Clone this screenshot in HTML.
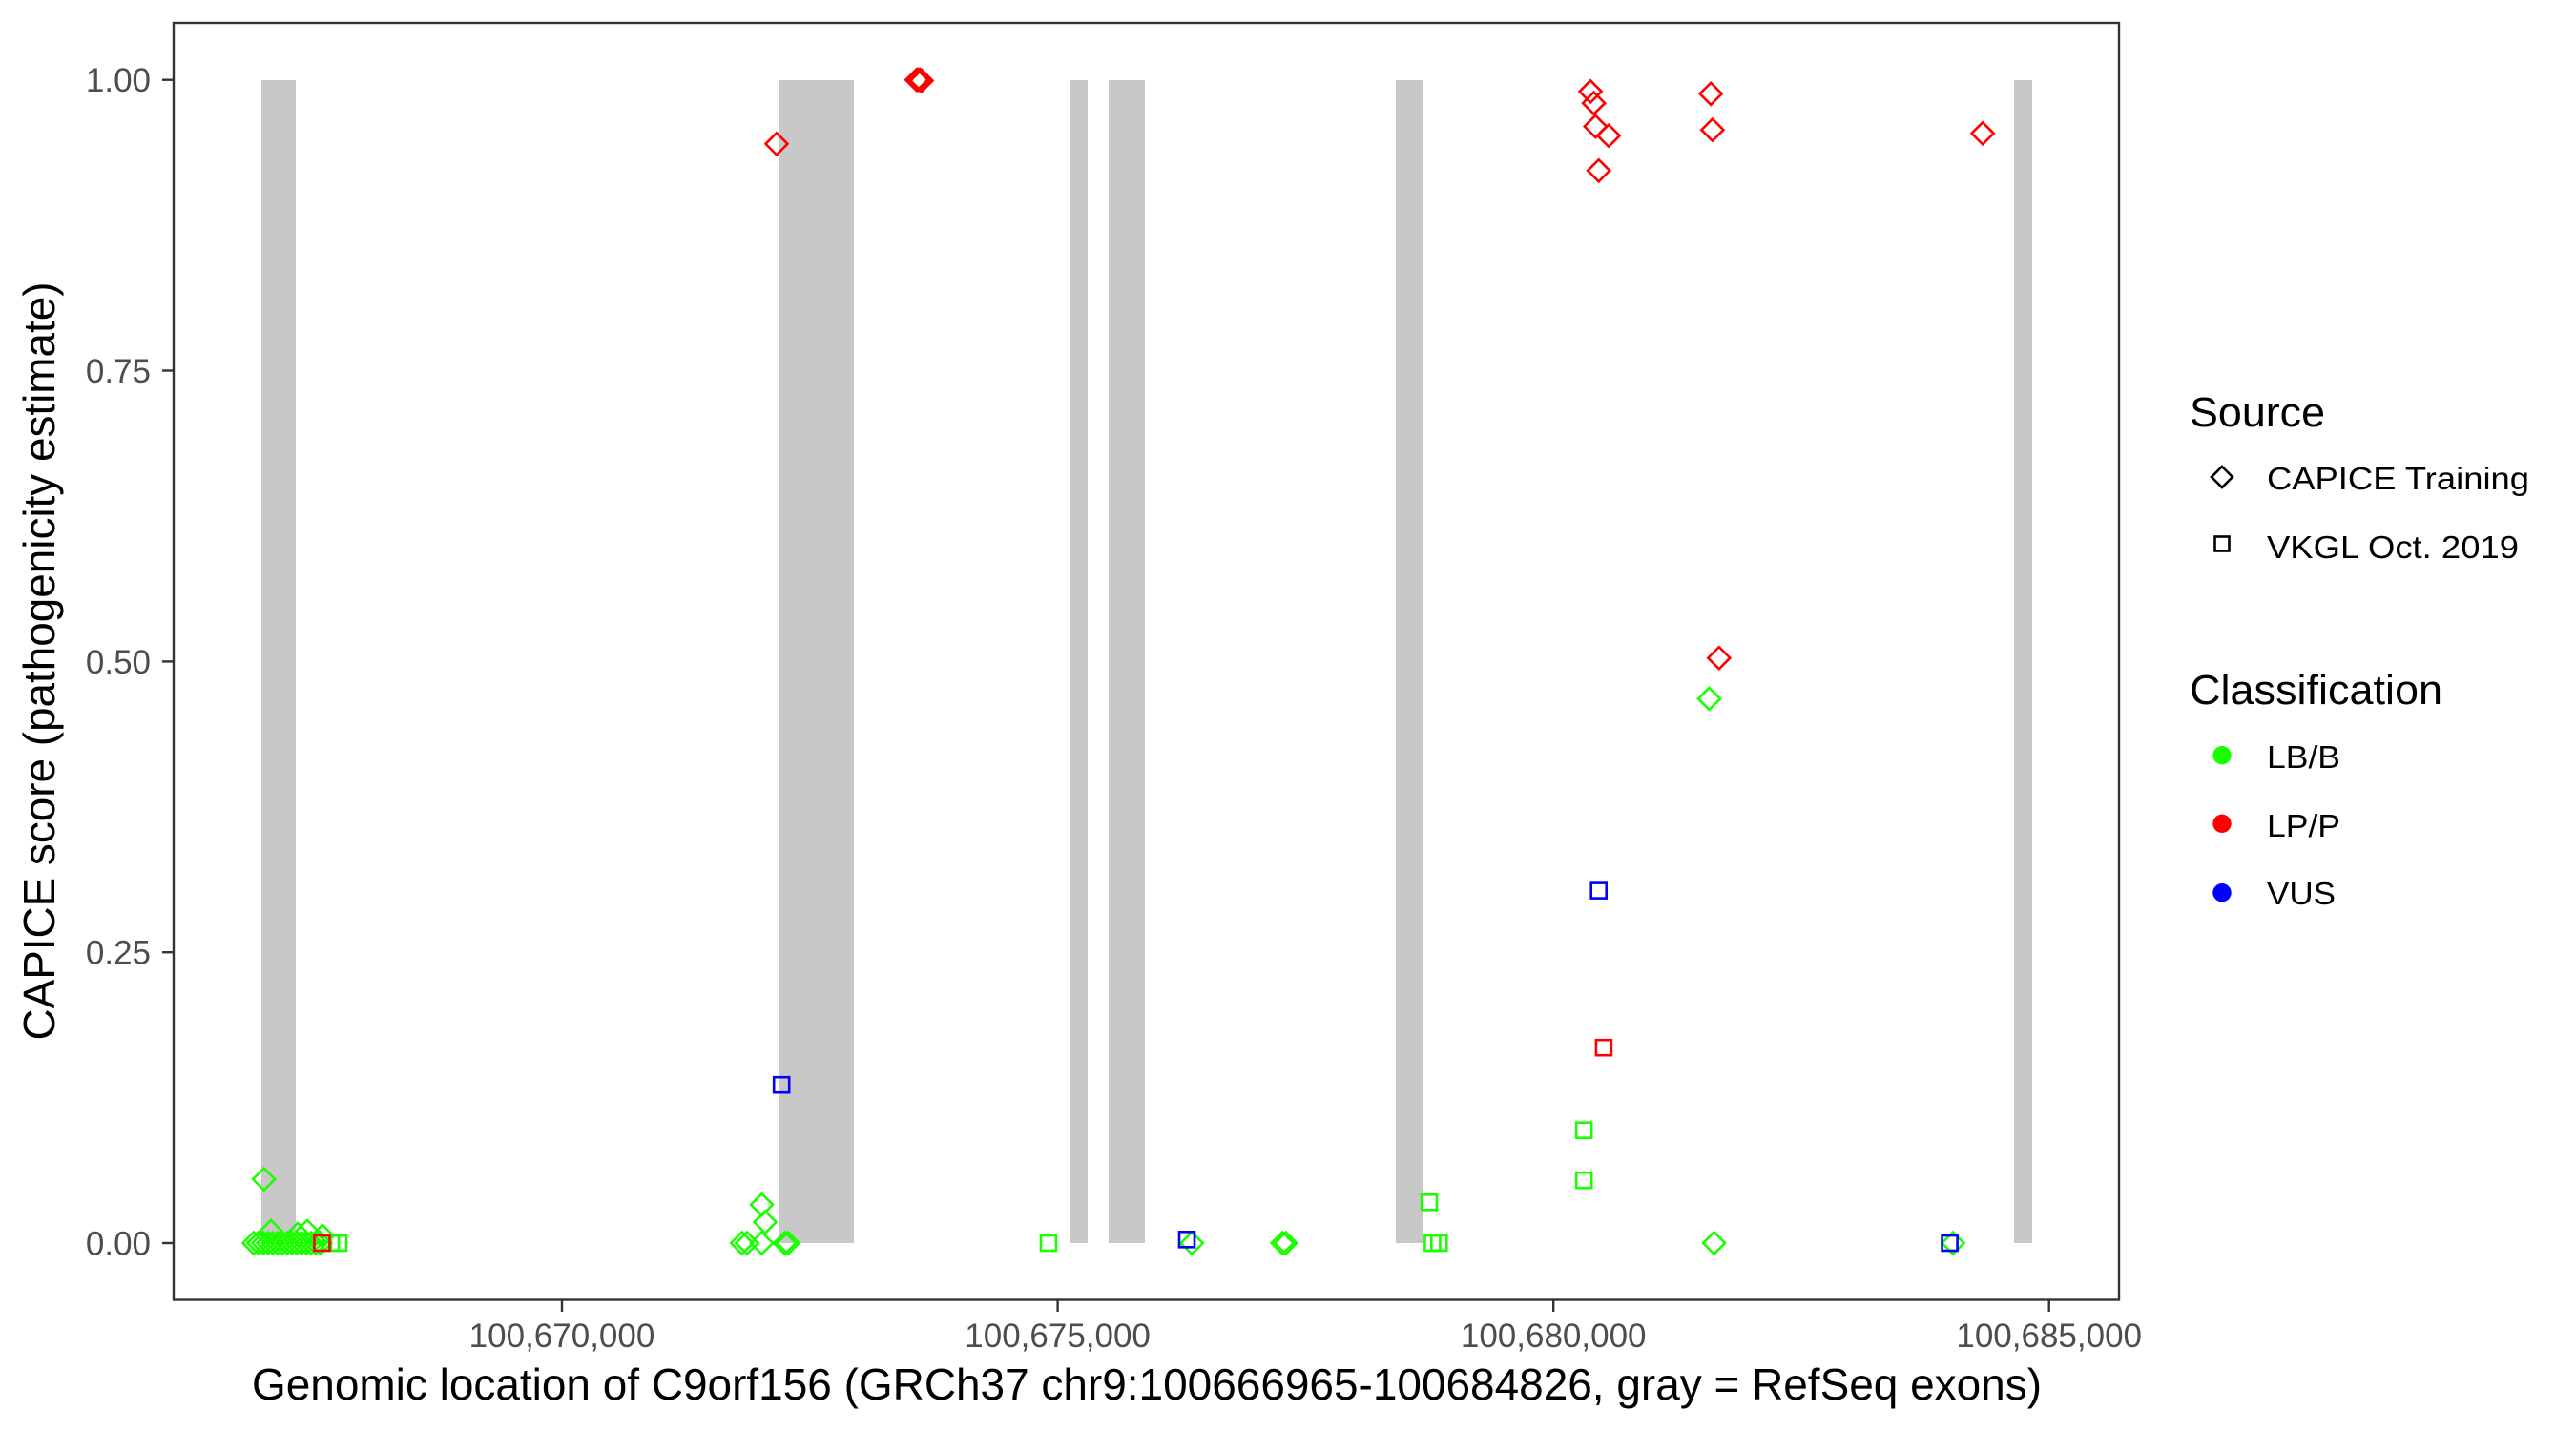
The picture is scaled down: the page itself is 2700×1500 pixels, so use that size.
<!DOCTYPE html>
<html><head><meta charset="utf-8"><style>
html,body{margin:0;padding:0;background:#fff;}
svg{display:block;font-family:"Liberation Sans",Arial,sans-serif;}
</style></head><body>
<svg width="2700" height="1500" viewBox="0 0 2700 1500" xmlns="http://www.w3.org/2000/svg">
<rect width="2700" height="1500" fill="#fff"/>
<!-- exons -->
<g fill="#c8c8c8">
<rect x="274" y="84" width="36" height="1219"/>
<rect x="817" y="84" width="78" height="1219"/>
<rect x="1122" y="84" width="18" height="1219"/>
<rect x="1162" y="84" width="38" height="1219"/>
<rect x="1463" y="84" width="28" height="1219"/>
<rect x="2111" y="84" width="19" height="1219"/>
</g>
<!-- green diamonds -->
<g fill="none" stroke="#1aff00" stroke-width="2.6">
<path d="M276.7 1224.5 l11.5 11.5 l-11.5 11.5 l-11.5 -11.5 z"/>
<path d="M266 1291.5 l11.5 11.5 l-11.5 11.5 l-11.5 -11.5 z"/>
<path d="M271 1291.5 l11.5 11.5 l-11.5 11.5 l-11.5 -11.5 z"/>
<path d="M276 1291.5 l11.5 11.5 l-11.5 11.5 l-11.5 -11.5 z"/>
<path d="M281 1291.5 l11.5 11.5 l-11.5 11.5 l-11.5 -11.5 z"/>
<path d="M286 1291.5 l11.5 11.5 l-11.5 11.5 l-11.5 -11.5 z"/>
<path d="M291 1291.5 l11.5 11.5 l-11.5 11.5 l-11.5 -11.5 z"/>
<path d="M296 1291.5 l11.5 11.5 l-11.5 11.5 l-11.5 -11.5 z"/>
<path d="M301 1291.5 l11.5 11.5 l-11.5 11.5 l-11.5 -11.5 z"/>
<path d="M306 1291.5 l11.5 11.5 l-11.5 11.5 l-11.5 -11.5 z"/>
<path d="M311 1291.5 l11.5 11.5 l-11.5 11.5 l-11.5 -11.5 z"/>
<path d="M316 1291.5 l11.5 11.5 l-11.5 11.5 l-11.5 -11.5 z"/>
<path d="M321 1291.5 l11.5 11.5 l-11.5 11.5 l-11.5 -11.5 z"/>
<path d="M326 1291.5 l11.5 11.5 l-11.5 11.5 l-11.5 -11.5 z"/>
<path d="M331 1291.5 l11.5 11.5 l-11.5 11.5 l-11.5 -11.5 z"/>
<path d="M336 1291.5 l11.5 11.5 l-11.5 11.5 l-11.5 -11.5 z"/>
<path d="M284 1279 l11.5 11.5 l-11.5 11.5 l-11.5 -11.5 z"/>
<path d="M312 1282 l11.5 11.5 l-11.5 11.5 l-11.5 -11.5 z"/>
<path d="M322 1279 l11.5 11.5 l-11.5 11.5 l-11.5 -11.5 z"/>
<path d="M338 1284 l11.5 11.5 l-11.5 11.5 l-11.5 -11.5 z"/>
<path d="M777.7 1291.5 l11.5 11.5 l-11.5 11.5 l-11.5 -11.5 z"/>
<path d="M783 1291.5 l11.5 11.5 l-11.5 11.5 l-11.5 -11.5 z"/>
<path d="M798.5 1291.5 l11.5 11.5 l-11.5 11.5 l-11.5 -11.5 z"/>
<path d="M798.5 1251.3 l11.5 11.5 l-11.5 11.5 l-11.5 -11.5 z"/>
<path d="M802 1269.5 l11.5 11.5 l-11.5 11.5 l-11.5 -11.5 z"/>
<path d="M822.6 1291.5 l11.5 11.5 l-11.5 11.5 l-11.5 -11.5 z"/>
<path d="M826 1291.5 l11.5 11.5 l-11.5 11.5 l-11.5 -11.5 z"/>
<path d="M1249.2 1291.5 l11.5 11.5 l-11.5 11.5 l-11.5 -11.5 z"/>
<path d="M1344.2 1291.5 l11.5 11.5 l-11.5 11.5 l-11.5 -11.5 z"/>
<path d="M1347.7 1291.5 l11.5 11.5 l-11.5 11.5 l-11.5 -11.5 z"/>
<path d="M1791.5 720.9 l11.5 11.5 l-11.5 11.5 l-11.5 -11.5 z"/>
<path d="M1796.6 1291.5 l11.5 11.5 l-11.5 11.5 l-11.5 -11.5 z"/>
<path d="M2047 1291.5 l11.5 11.5 l-11.5 11.5 l-11.5 -11.5 z"/>
</g>
<!-- green squares -->
<g fill="none" stroke="#1aff00" stroke-width="2.6">
<rect x="339" y="1295" width="16" height="16"/>
<rect x="347" y="1295" width="16" height="16"/>
<rect x="1091" y="1295" width="16" height="16"/>
<rect x="1490" y="1252.3" width="16" height="16"/>
<rect x="1493.4" y="1295" width="16" height="16"/>
<rect x="1500.3" y="1295" width="16" height="16"/>
<rect x="1652.2" y="1176.7" width="16" height="16"/>
<rect x="1652.2" y="1229.2" width="16" height="16"/>
</g>
<!-- red -->
<g fill="none" stroke="#ff0000" stroke-width="2.6">
<rect x="329.4" y="1295" width="16" height="16"/>
<rect x="1672.9" y="1090.2" width="16" height="16"/>
<path d="M814 139.3 l11.5 11.5 l-11.5 11.5 l-11.5 -11.5 z"/>
<path d="M960.8 72.2 l11.5 11.5 l-11.5 11.5 l-11.5 -11.5 z"/>
<path d="M962.5 72.2 l11.5 11.5 l-11.5 11.5 l-11.5 -11.5 z"/>
<path d="M964.3 72.2 l11.5 11.5 l-11.5 11.5 l-11.5 -11.5 z"/>
<path d="M966 73 l11.5 11.5 l-11.5 11.5 l-11.5 -11.5 z"/>
<path d="M1667.1 84.4 l11.5 11.5 l-11.5 11.5 l-11.5 -11.5 z"/>
<path d="M1670.6 96.6 l11.5 11.5 l-11.5 11.5 l-11.5 -11.5 z"/>
<path d="M1672.3 121 l11.5 11.5 l-11.5 11.5 l-11.5 -11.5 z"/>
<path d="M1686.1 130.7 l11.5 11.5 l-11.5 11.5 l-11.5 -11.5 z"/>
<path d="M1675.7 167.3 l11.5 11.5 l-11.5 11.5 l-11.5 -11.5 z"/>
<path d="M1793.2 86.8 l11.5 11.5 l-11.5 11.5 l-11.5 -11.5 z"/>
<path d="M1794.9 124.7 l11.5 11.5 l-11.5 11.5 l-11.5 -11.5 z"/>
<path d="M1801.8 678.2 l11.5 11.5 l-11.5 11.5 l-11.5 -11.5 z"/>
<path d="M2078.1 128.3 l11.5 11.5 l-11.5 11.5 l-11.5 -11.5 z"/>
</g>
<!-- blue squares -->
<g fill="none" stroke="#0000ff" stroke-width="2.6">
<rect x="811.2" y="1129.2" width="16" height="16"/>
<rect x="1236" y="1291.3" width="16" height="16"/>
<rect x="1667.7" y="925.6" width="16" height="16"/>
<rect x="2035.6" y="1295" width="16" height="16"/>
</g>
<!-- panel border -->
<rect x="182" y="24" width="2039" height="1338.5" fill="none" stroke="#333" stroke-width="2.4"/>
<!-- y ticks -->
<g stroke="#333" stroke-width="2.4">
<line x1="170" y1="83.7" x2="182" y2="83.7"/>
<line x1="170" y1="388.5" x2="182" y2="388.5"/>
<line x1="170" y1="693.4" x2="182" y2="693.4"/>
<line x1="170" y1="998.2" x2="182" y2="998.2"/>
<line x1="170" y1="1303" x2="182" y2="1303"/>
<line x1="589" y1="1362" x2="589" y2="1375"/>
<line x1="1108.6" y1="1362" x2="1108.6" y2="1375"/>
<line x1="1628.2" y1="1362" x2="1628.2" y2="1375"/>
<line x1="2147.7" y1="1362" x2="2147.7" y2="1375"/>
</g>
<g fill="#4d4d4d" font-size="35" text-anchor="end">
<text x="158" y="96">1.00</text>
<text x="158" y="401">0.75</text>
<text x="158" y="706">0.50</text>
<text x="158" y="1010.5">0.25</text>
<text x="158" y="1315.5">0.00</text>
</g>
<g fill="#4d4d4d" font-size="35" text-anchor="middle">
<text x="589" y="1412">100,670,000</text>
<text x="1108.6" y="1412">100,675,000</text>
<text x="1628.2" y="1412">100,680,000</text>
<text x="2147.7" y="1412">100,685,000</text>
</g>
<text x="1202" y="1467" font-size="46" text-anchor="middle" textLength="1876" lengthAdjust="spacingAndGlyphs" fill="#000">Genomic location of C9orf156 (GRCh37 chr9:100666965-100684826, gray = RefSeq exons)</text>
<text transform="translate(57,693) rotate(-90)" font-size="46" text-anchor="middle" textLength="795" lengthAdjust="spacingAndGlyphs" fill="#000">CAPICE score (pathogenicity estimate)</text>
<!-- legend -->
<text x="2295" y="447" font-size="44" textLength="142" lengthAdjust="spacingAndGlyphs">Source</text>
<path d="M2329 489 l11 11 l-11 11 l-11 -11 z" fill="none" stroke="#000" stroke-width="2.6"/>
<rect x="2321.5" y="562.5" width="15" height="15" fill="none" stroke="#000" stroke-width="2.6"/>
<text x="2376" y="513" font-size="33" textLength="275" lengthAdjust="spacingAndGlyphs">CAPICE Training</text>
<text x="2376" y="585" font-size="33" textLength="264" lengthAdjust="spacingAndGlyphs">VKGL Oct. 2019</text>
<text x="2295" y="738" font-size="44" textLength="265" lengthAdjust="spacingAndGlyphs">Classification</text>
<circle cx="2329" cy="791.7" r="9.7" fill="#1aff00"/>
<circle cx="2329" cy="863.3" r="9.7" fill="#ff0000"/>
<circle cx="2329" cy="935.7" r="9.7" fill="#0000ff"/>
<text x="2376" y="805" font-size="33" textLength="77" lengthAdjust="spacingAndGlyphs">LB/B</text>
<text x="2376" y="877" font-size="33" textLength="77" lengthAdjust="spacingAndGlyphs">LP/P</text>
<text x="2376" y="948" font-size="33" textLength="72" lengthAdjust="spacingAndGlyphs">VUS</text>
</svg>
</body></html>
